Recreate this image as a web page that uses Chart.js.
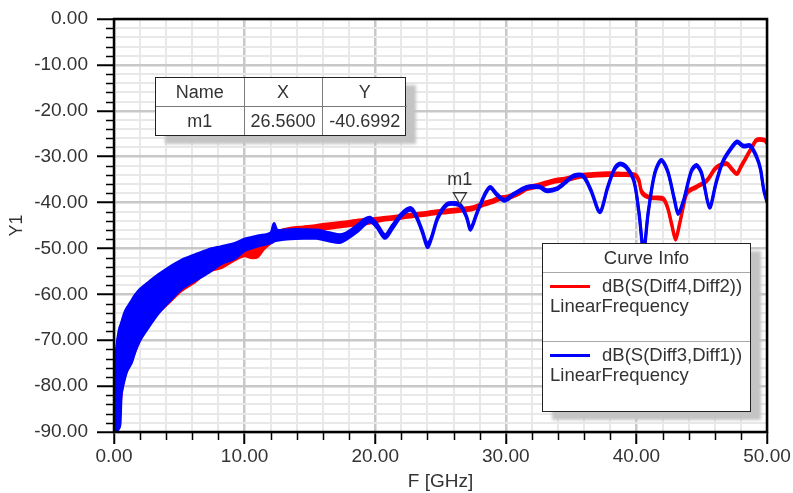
<!DOCTYPE html>
<html>
<head>
<meta charset="utf-8">
<script src="https://cdn.jsdelivr.net/npm/chart.js@4.4.0/dist/chart.umd.min.js"></script>
<style>
html,body{margin:0;padding:0;background:#fff;}
#wrap{position:relative;width:793px;height:493px;overflow:hidden;font-family:"Liberation Sans",Arial,sans-serif;color:#333;}
#c{position:absolute;left:0;top:0;}
.box{position:absolute;background:#fff;border:1.5px solid #222;box-shadow:10px 8px 3px #c4c4c4;box-sizing:border-box;}
#mt{border-collapse:collapse;width:100%;height:100%;table-layout:fixed;}
#mt td{border:1.5px solid #7a7a7a;text-align:center;font-size:18px;padding:0;color:#333;}
#mt tr:first-child td{border-top:none;}
#mt tr:last-child td{border-bottom:none;}
#mt td:first-child{border-left:none;}
#mt td:last-child{border-right:none;}
.lg{position:absolute;font-size:18.5px;line-height:22px;white-space:nowrap;color:#333;}
.sep{position:absolute;left:0;right:0;height:0;border-top:1.5px solid #a8a8a8;}
.swatch{position:absolute;height:3px;}
</style>
</head>
<body>
<div id="wrap">
  <canvas id="c" width="793" height="493"></canvas>
  <div id="mtable" class="box" style="left:155px;top:77px;width:251px;height:59px;"></div>
  <div id="legend" class="box" style="left:542px;top:243px;width:209px;height:169px;"></div>
</div>
<script>
// ---------- axis ticks ----------
const xMajorTicks = [0, 10, 20, 30, 40, 50];
const yMajorTicks = [0, -10, -20, -30, -40, -50, -60, -70, -80, -90];
const xTitle = 'F [GHz]';
const yTitle = 'Y1';

// ---------- series names ----------
const seriesNames = ['dB(S(Diff4,Diff2))', 'dB(S(Diff3,Diff1))'];
const sweepName = 'LinearFrequency';
const seriesColors = ['#ff0000', '#0000ff'];

// ---------- marker ----------
const markerNames = ['m1'];
const markerX = [26.56];
const markerY = [-40.6992];

// ---------- red trace: dB(S(Diff4,Diff2)) (upper / lower edge of noisy trace) ----------
const redF  = [0.05,0.3,0.56,0.82,1.33,1.96,2.6,3.37,4.13,5.16,6.18,7.2,8.22,9.24,10.0,10.5,11.0,11.5,12.5,13.5,14.5,15.5,16.5,17.5,18.5,19.5,20.5,21.5,22.5,23.5,24.5,25.5,26.5,27.5,28.3,29.0,29.5,30.1,31.0,31.6,32.5,33.7,34.5,35.7,36.5,37.8,38.8,39.9,40.2,40.4,40.9,41.5,42.06,42.4,42.7,43.0,43.3,43.6,43.9,44.6,45.4,46.1,46.9,47.3,47.7,48.0,48.4,48.8,49.2,49.8,50.0];
const redHi = [-77,-70.2,-66.8,-64.4,-61.9,-59.5,-58.0,-56.2,-54.6,-52.9,-51.8,-50.7,-50.0,-49.4,-48.6,-48.5,-48.0,-47.5,-46.3,-45.6,-45.3,-45.0,-44.6,-44.3,-43.9,-43.6,-43.3,-43.0,-42.6,-42.3,-41.9,-41.6,-41.3,-40.9,-40.0,-39.4,-38.8,-38.6,-37.6,-36.6,-36.0,-35.0,-34.7,-33.9,-33.7,-33.5,-33.6,-33.8,-35.0,-37.4,-38.6,-38.8,-39.0,-41.0,-44.5,-47.6,-44.5,-40.5,-37.5,-36.4,-35.0,-32.2,-31.3,-32.5,-33.5,-32.0,-30.0,-28.0,-26.2,-26.2,-26.8];
const redLo = [-89.8,-89,-81.5,-77.8,-74.5,-70,-67,-64,-62,-59.2,-57.3,-55.0,-54.2,-52.5,-51.6,-52.0,-51.8,-50.0,-47.8,-47.0,-46.3,-46.0,-45.6,-45.2,-44.9,-44.5,-43.9,-43.6,-43.2,-42.9,-42.5,-42.2,-41.9,-41.5,-40.6,-40.0,-39.4,-39.2,-38.2,-37.2,-36.6,-35.6,-35.3,-34.5,-34.3,-34.1,-34.1,-34.3,-35.5,-37.9,-39.0,-39.2,-39.4,-41.4,-45.0,-48.2,-45.0,-41.0,-38.0,-36.8,-35.4,-32.6,-31.7,-32.9,-33.9,-32.4,-30.4,-28.4,-26.6,-26.6,-27.2];

// ---------- blue trace: dB(S(Diff3,Diff1)) (upper / lower edge of noisy trace) ----------
const blueF  = [0.05,0.3,0.45,0.56,0.82,1.0,1.33,1.6,1.96,2.6,3.37,4.13,5.16,6.18,7.2,8.22,9.24,10.0,11.0,12.0,12.25,12.5,13.5,14.5,15.5,16.5,17.3,17.8,18.6,19.2,19.6,20.1,20.75,21.3,22.0,22.7,23.1,23.6,24.0,24.3,24.8,25.5,26.1,26.56,27.0,27.3,27.8,28.4,28.8,29.3,29.9,30.6,31.6,32.6,33.1,33.9,34.6,35.2,35.9,36.5,37.2,37.8,38.3,38.7,39.2,39.8,40.2,40.55,40.9,41.4,41.9,42.4,42.9,43.2,43.6,44.2,44.6,45.0,45.6,46.1,46.6,47.2,47.7,48.2,48.7,49.2,49.5,49.75,50.0];
const blueHi = [-76,-69.5,-67.2,-66.4,-64.0,-63.0,-61.5,-60.3,-59.0,-57.5,-55.8,-54.3,-52.6,-51.4,-50.3,-49.6,-48.9,-48.0,-47.3,-46.6,-44.6,-46.0,-45.9,-45.9,-46.0,-46.6,-47.0,-46.6,-45.0,-43.6,-43.2,-44.5,-47.0,-45.0,-42.4,-41.1,-42.5,-46.0,-49.0,-47.5,-43.0,-40.2,-40.0,-40.5,-43.0,-45.5,-42.0,-38.0,-36.5,-38.0,-39.3,-38.0,-36.5,-36.4,-37.2,-36.8,-35.3,-34.0,-34.0,-37.0,-41.8,-36.5,-32.6,-31.4,-32.0,-35.0,-42.0,-50.0,-42.0,-33.5,-30.6,-33.0,-39.0,-42.2,-39.5,-33.0,-31.7,-33.5,-40.8,-35.5,-31.0,-28.2,-26.6,-27.5,-27.4,-29.8,-32.5,-37.0,-39.6];
const blueLo = [-89.8,-89.5,-88.5,-81.7,-78.2,-76.6,-74.9,-72.5,-70.1,-67.3,-64.2,-61.8,-58.8,-57.0,-55.3,-53.3,-52.2,-50.5,-49.5,-48.8,-48.4,-48.2,-47.9,-47.8,-47.8,-48.4,-48.7,-48.0,-46.4,-44.8,-44.2,-45.3,-47.8,-45.8,-43.0,-41.7,-43.0,-46.5,-49.8,-48.0,-43.5,-40.6,-40.4,-40.9,-43.4,-46.0,-42.4,-38.4,-36.9,-38.4,-39.7,-38.4,-36.9,-36.8,-37.6,-37.2,-35.7,-34.4,-34.4,-37.4,-42.2,-36.9,-33.0,-31.8,-32.4,-35.4,-42.5,-51.0,-42.5,-33.9,-31.0,-33.4,-39.4,-42.6,-39.9,-33.4,-32.1,-33.9,-41.2,-35.9,-31.4,-28.6,-27.0,-27.9,-27.8,-30.2,-32.9,-37.4,-40.0];

// ---------- build ----------
const toXY = (xs, ys) => xs.map((x, i) => ({x: x, y: ys[i]}));
const isMajorX = v => xMajorTicks.includes(v);
const isMajorY = v => yMajorTicks.includes(v);
const FONT = '"Liberation Sans", Arial, sans-serif';
Chart.defaults.font.family = FONT;

function traceSets(name, color, f, hi, lo, order) {
  return [
    {label: name + ' hi', data: toXY(f, hi), borderColor: color, borderWidth: 3, pointRadius: 0, fill: false, order: order, tension: 0.3},
    {label: name, data: toXY(f, lo), borderColor: color, backgroundColor: color, borderWidth: 3, pointRadius: 0, fill: '-1', order: order, tension: 0.3}
  ];
}

const minorTicks = {
  id: 'minorTicks',
  afterDraw(chart) {
    const {ctx, scales: {x, y}, chartArea: a} = chart;
    ctx.save();
    ctx.strokeStyle = '#000';
    ctx.lineWidth = 1.5;
    ctx.beginPath();
    x.ticks.forEach(t => {
      if (isMajorX(t.value)) return;
      const px = Math.round(x.getPixelForValue(t.value)) + 0.5;
      ctx.moveTo(px, a.bottom); ctx.lineTo(px, a.bottom + 8);
    });
    y.ticks.forEach(t => {
      if (isMajorY(t.value)) return;
      const py = Math.round(y.getPixelForValue(t.value)) + 0.5;
      ctx.moveTo(a.left, py); ctx.lineTo(a.left - 8, py);
    });
    ctx.stroke();
    ctx.restore();
  }
};

const frameAndMarker = {
  id: 'frameAndMarker',
  afterDatasetsDraw(chart) {
    const {ctx, scales: {x, y}, chartArea: a} = chart;
    ctx.save();
    markerNames.forEach((n, i) => {
      const px = x.getPixelForValue(markerX[i]) - 1;
      const py = y.getPixelForValue(markerY[i]) - 2;
      ctx.beginPath();
      ctx.moveTo(px, py);
      ctx.lineTo(px - 6.5, py - 11);
      ctx.lineTo(px + 6.5, py - 11);
      ctx.closePath();
      ctx.fillStyle = '#fff';
      ctx.fill();
      ctx.strokeStyle = '#333';
      ctx.lineWidth = 1.3;
      ctx.stroke();
      ctx.fillStyle = '#333';
      ctx.font = '18px ' + FONT;
      ctx.textAlign = 'center';
      ctx.textBaseline = 'middle';
      ctx.fillText(n, px, py - 24);
    });
    ctx.strokeStyle = '#000';
    ctx.lineWidth = 2.5;
    ctx.strokeRect(a.left, a.top, a.right - a.left, a.bottom - a.top);
    ctx.restore();
  }
};

new Chart(document.getElementById('c'), {
  type: 'line',
  data: {
    datasets: [
      ...traceSets(seriesNames[0], seriesColors[0], redF, redHi, redLo, 2),
      ...traceSets(seriesNames[1], seriesColors[1], blueF, blueHi, blueLo, 1)
    ]
  },
  options: {
    responsive: false,
    animation: false,
    devicePixelRatio: 1,
    layout: {padding: {left: 0, top: 19, right: 26, bottom: 0}},
    plugins: {legend: {display: false}, tooltip: {enabled: false}},
    scales: {
      x: {
        type: 'linear', min: 0, max: 50,
        afterFit(s) { s.height = 61; s.paddingLeft = 0; s.paddingRight = 0; },
        ticks: {
          stepSize: 2, autoSkip: false, maxRotation: 0, padding: 1, color: '#333',
          font: {size: 19, family: FONT},
          callback: v => isMajorX(v) ? v.toFixed(2) : ''
        },
        grid: {
          color: c => isMajorX(c.tick.value) ? '#c8c8c8' : '#e8e8e8',
          lineWidth: c => isMajorX(c.tick.value) ? 2.5 : 2,
          tickLength: 12,
          tickColor: c => isMajorX(c.tick.value) ? '#000' : 'rgba(0,0,0,0)',
          tickWidth: 2
        },
        border: {display: false},
        title: {display: true, text: xTitle, color: '#333', font: {size: 19, family: FONT, lineHeight: 1.2}, padding: {top: 0, bottom: 0}}
      },
      y: {
        type: 'linear', min: -90, max: 0,
        afterFit(s) { s.width = 114; s.paddingTop = 0; s.paddingBottom = 0; },
        ticks: {
          stepSize: 2, autoSkip: false, padding: 9, color: '#333',
          font: {size: 19, family: FONT},
          callback: v => isMajorY(v) ? v.toFixed(2) : ''
        },
        grid: {
          color: c => isMajorY(c.tick.value) ? '#c8c8c8' : '#e8e8e8',
          lineWidth: c => isMajorY(c.tick.value) ? 2.5 : 2,
          tickLength: 17,
          tickColor: c => isMajorY(c.tick.value) ? '#000' : 'rgba(0,0,0,0)',
          tickWidth: 2
        },
        border: {display: false},
        title: {display: true, text: yTitle, color: '#333', font: {size: 18, family: FONT, lineHeight: 1.2}, padding: {top: 6, bottom: 0}}
      }
    }
  },
  plugins: [minorTicks, frameAndMarker]
});

// ---------- marker table (HTML text) ----------
(function () {
  const rows = [['Name', 'X', 'Y']].concat(markerNames.map((n, i) => [n, markerX[i].toFixed(4), markerY[i].toFixed(4)]));
  const widths = [88, 78, 85];
  let html = '<table id="mt"><colgroup>' + widths.map(w => '<col style="width:' + w + 'px">').join('') + '</colgroup>';
  rows.forEach(r => { html += '<tr>' + r.map(c => '<td>' + c + '</td>').join('') + '</tr>'; });
  html += '</table>';
  document.getElementById('mtable').innerHTML = html;
})();

// ---------- curve info legend (HTML text) ----------
(function () {
  const lg = document.getElementById('legend');
  let html = '<div class="lg" style="left:0;right:0;top:3px;text-align:center;">Curve Info</div>';
  html += '<div class="sep" style="top:28px"></div>';
  seriesNames.forEach((n, i) => {
    const base = 42 + i * 69;
    html += '<div class="swatch" style="left:7px;width:40px;top:' + (base - 1) + 'px;background:' + seriesColors[i] + '"></div>';
    html += '<div class="lg" style="left:59px;top:' + (base - 11) + 'px;">' + n + '</div>';
    html += '<div class="lg" style="left:7px;top:' + (base + 9) + 'px;">' + sweepName + '</div>';
    if (i === 0) html += '<div class="sep" style="top:' + (base + 55) + 'px"></div>';
  });
  lg.innerHTML = html;
})();
</script>
</body>
</html>
